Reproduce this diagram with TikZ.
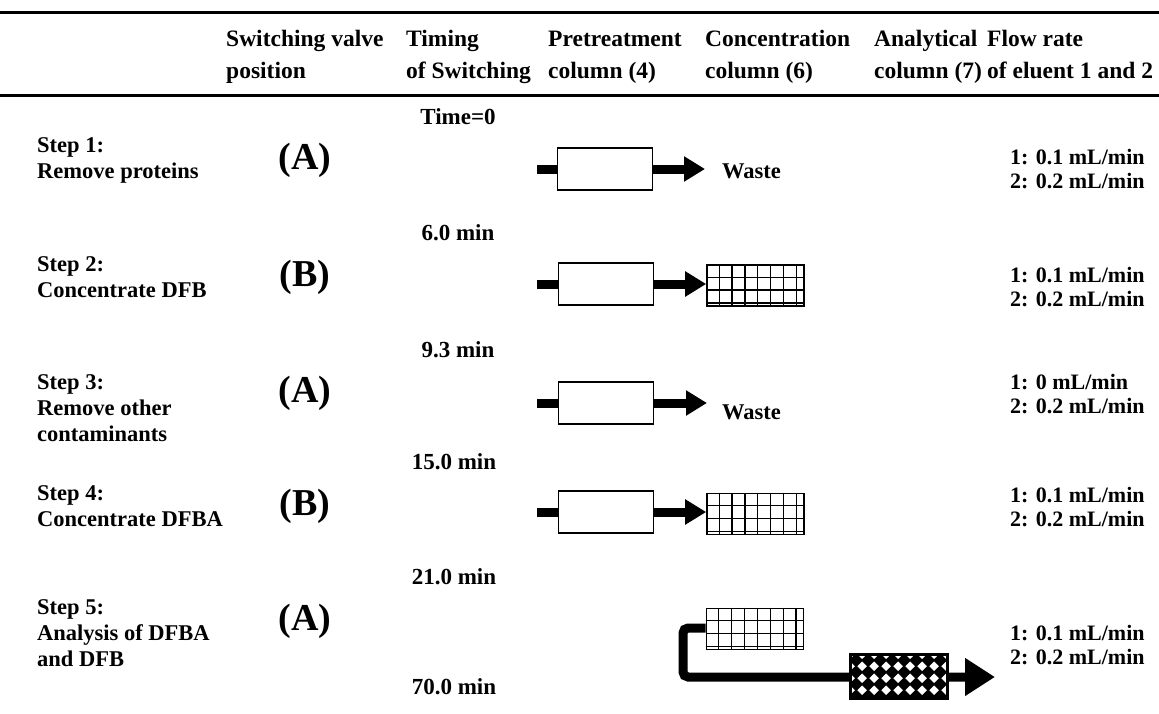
\documentclass[tikz,border=0pt]{standalone}
\usepackage{fontspec}
\setmainfont{Liberation Serif}
\usetikzlibrary{arrows.meta,calc}
\tikzset{
  txt/.style={anchor=base west, inner sep=0pt, font=\fontsize{22.5}{26}\selectfont\bfseries, align=left},
  flowtxt/.style={anchor=base west, inner sep=0pt, font=\fontsize{22}{23.5}\selectfont\bfseries, align=left},
  timetxt/.style={anchor=base, inner sep=0pt, font=\fontsize{23}{26}\selectfont\bfseries},
  hdr/.style={anchor=base west, inner sep=0pt, font=\fontsize{23.5}{32}\selectfont\bfseries, align=left},
  valvepos/.style={inner sep=0pt, font=\fontsize{38}{40}\selectfont\bfseries},
  col/.style={draw, line width=1.6pt, fill=white, minimum width=95pt, minimum height=42pt, inner sep=0pt},
  gridcol/.style={draw, line width=1.6pt, minimum width=97pt, minimum height=41pt, inner sep=0pt},
  pipe/.style={line width=9pt},
  smallarrow/.style={pipe, -{Triangle[length=21pt,width=24pt]}},
  bigarrow/.style={pipe, rounded corners=5pt, -{Triangle[length=30pt,width=36pt]}},
  rule/.style={line width=3pt}
}
\newcommand{\gridfill}[1]{%
  \foreach \k in {1,...,7} \draw[line width=1.2pt] ($(#1.north west)+(\k*12.9,0)$) -- ($(#1.south west)+(\k*12.9,0)$);
  \foreach \k in {1,2,3} \draw[line width=1.2pt] ($(#1.north west)+(0,\k*12.9)$) -- ($(#1.north east)+(0,\k*12.9)$);
}
\begin{document}
\begin{tikzpicture}[x=1pt,y=-1pt]
\useasboundingbox (0,0) rectangle (1159,713);
% rules
\draw[rule] (0,12) -- (1159,12);
\draw[rule] (0,95) -- (1159,95);
% header (y = baseline of the last line)
\node[hdr] (h1) at (226,78) {Switching valve\\position};
\node[hdr] (h2) at (406,78) {Timing\\of Switching};
\node[hdr] (h3) at (548,78) {Pretreatment\\column (4)};
\node[hdr] (h4) at (705,78) {Concentration\\column (6)};
\node[hdr] (h5) at (874,78) {Analytical\\column (7)};
\node[hdr] (h6) at (987,78) {Flow rate\\of eluent 1 and 2};
% timing labels
\node[timetxt] (t0) at (458,124) {Time=0};
\node[timetxt] (t1) at (458,240) {6.0 min};
\node[timetxt] (t2) at (458,357) {9.3 min};
\node[timetxt] (t3) at (454,469) {15.0 min};
\node[timetxt] (t4) at (454,584) {21.0 min};
\node[timetxt] (t5) at (454,694) {70.0 min};
% steps (y = baseline of the last line)
\node[txt] (s1) at (37,178) {Step 1:\\Remove proteins};
\node[txt] (s2) at (37,297) {Step 2:\\Concentrate DFB};
\node[txt] (s3) at (37,441) {Step 3:\\Remove other\\contaminants};
\node[txt] (s4) at (37,526) {Step 4:\\Concentrate DFBA};
\node[txt] (s5) at (37,666) {Step 5:\\Analysis of DFBA\\and DFB};
% valve positions
\node[valvepos] (v1) at (305,160) {(A)};
\node[valvepos] (v2) at (305,277) {(B)};
\node[valvepos] (v3) at (305,393) {(A)};
\node[valvepos] (v4) at (305,506) {(B)};
\node[valvepos] (v5) at (305,621) {(A)};
% flow rates (y = baseline of the last line)
\node[flowtxt] (f1) at (1010,188) {1: 0.1 mL/min\\2: 0.2 mL/min};
\node[flowtxt] (f2) at (1010,306) {1: 0.1 mL/min\\2: 0.2 mL/min};
\node[flowtxt] (f3) at (1010,413) {1: 0 mL/min\\2: 0.2 mL/min};
\node[flowtxt] (f4) at (1010,526) {1: 0.1 mL/min\\2: 0.2 mL/min};
\node[flowtxt] (f5) at (1010,664) {1: 0.1 mL/min\\2: 0.2 mL/min};
% ---- row 1
\coordinate (i1) at (537,169);
\node[col] (p1) at (605,169) {};
\coordinate (e1) at (705,169);
\node[txt] (w1) at (722,178) {Waste};
\draw[pipe] (i1) -- (p1.west);
\draw[smallarrow] (p1.east) -- (e1);
% ---- row 2
\coordinate (i2) at (537,284);
\node[col] (p2) at (606,284) {};
\node[gridcol] (g2) at (755.5,285.5) {};
\draw[pipe] (i2) -- (p2.west);
\draw[smallarrow] (p2.east) -- (g2.west |- p2.east);
\gridfill{g2}
% ---- row 3
\coordinate (i3) at (537,403);
\node[col] (p3) at (606,403) {};
\coordinate (e3) at (707,403);
\node[txt] (w3) at (722,419) {Waste};
\draw[pipe] (i3) -- (p3.west);
\draw[smallarrow] (p3.east) -- (e3);
% ---- row 4
\coordinate (i4) at (537,512);
\node[col] (p4) at (606,512) {};
\node[gridcol] (g4) at (755.5,514) {};
\draw[pipe] (i4) -- (p4.west);
\draw[smallarrow] (p4.east) -- (g4.west |- p4.east);
\gridfill{g4}
% ---- row 5
\node[gridcol] (g5) at (755,629) {};
\gridfill{g5}
\coordinate (c5) at (683,628);
\coordinate (e5) at (995,677);
\draw[bigarrow] (g5.west |- c5) -- (c5) -- (c5 |- e5) -- (e5);
\node[draw, line width=1.6pt, fill=white, minimum width=96pt, minimum height=43pt, inner sep=0pt] (a5) at (899,676.5) {};
\begin{scope}
\clip (a5.south west) rectangle (a5.north east);
\foreach \i in {0,...,8} \foreach \j in {0,...,4}
  \fill ($(a5.north west)+(6+\i*12,6+\j*12)$) ++(0,-7) -- ++(7,7) -- ++(-7,7) -- ++(-7,-7) -- cycle;
\end{scope}
\draw[line width=1.6pt] (a5.south west) rectangle (a5.north east);
\end{tikzpicture}
\end{document}
